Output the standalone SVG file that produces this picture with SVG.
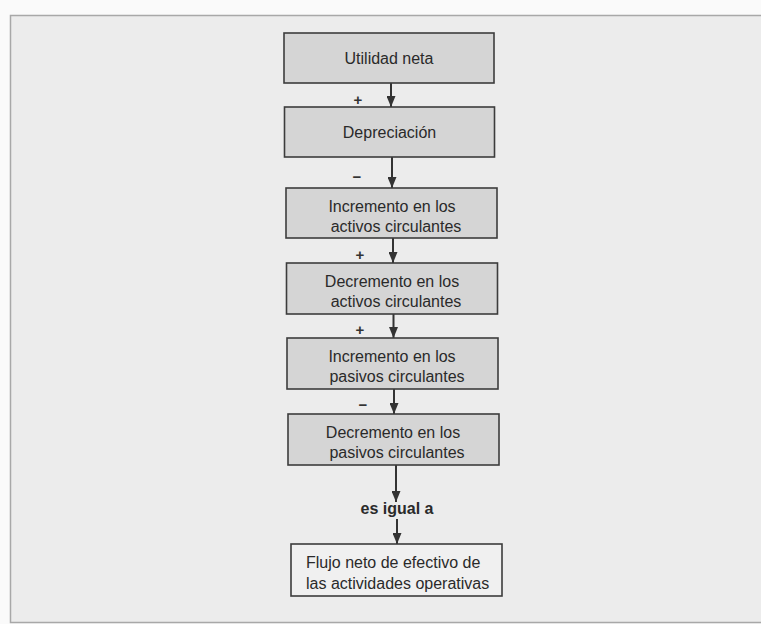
<svg xmlns="http://www.w3.org/2000/svg" width="761" height="624" viewBox="0 0 761 624">
<style>
.box{fill:#d5d5d5;stroke:#3c3c3c;stroke-width:1.6}
.txt{font-family:"Liberation Sans",Arial,sans-serif;font-size:16px;fill:#2a2a2a;text-anchor:middle}
.sign{font-family:"Liberation Sans",Arial,sans-serif;font-size:15px;font-weight:bold;fill:#333;text-anchor:middle}
.conn{stroke:#333;stroke-width:2;fill:none;marker-end:url(#ah)}
</style>
<defs>
<marker id="ah" markerWidth="11" markerHeight="9" refX="11" refY="4.5" orient="auto" markerUnits="userSpaceOnUse" viewBox="0 0 11 9">
<path d="M0,0 L11,4.5 L0,9 Z" fill="#333"/>
</marker>
</defs>
<rect x="0" y="0" width="761" height="624" fill="#fafafa"/>
<rect x="10.5" y="15.5" width="760" height="607" fill="#ececec" stroke="#a8a8a8" stroke-width="1.5"/>
<g id="connectors">
<line class="conn" x1="391" y1="83" x2="391" y2="107"/>
<line class="conn" x1="392" y1="157" x2="392" y2="188"/>
<line class="conn" x1="393" y1="238" x2="393" y2="263"/>
<line class="conn" x1="393.5" y1="314" x2="393.5" y2="338"/>
<line class="conn" x1="394" y1="389" x2="394" y2="414"/>
<line class="conn" x1="396" y1="465" x2="396" y2="502"/>
<line class="conn" x1="397" y1="519" x2="397" y2="544"/>
</g>
<g id="signs">
<text class="sign" x="358" y="105">+</text>
<text class="sign" x="357" y="182">−</text>
<text class="sign" x="360" y="260">+</text>
<text class="sign" x="360" y="335">+</text>
<text class="sign" x="363" y="410">−</text>
</g>
<g id="n1"><rect class="box" x="284" y="33" width="210" height="50"/><text class="txt" x="389" y="64">Utilidad neta</text></g>
<g id="n2"><rect class="box" x="284.5" y="107" width="210" height="50"/><text class="txt" x="389.5" y="138">Depreciación</text></g>
<g id="n3"><rect class="box" x="286" y="188" width="211" height="50"/><text class="txt" x="392" y="212">Incremento en los</text><text class="txt" x="396" y="232">activos circulantes</text></g>
<g id="n4"><rect class="box" x="286.5" y="263" width="211" height="51"/><text class="txt" x="392" y="287">Decremento en los</text><text class="txt" x="396" y="307">activos circulantes</text></g>
<g id="n5"><rect class="box" x="287" y="338" width="211" height="51"/><text class="txt" x="392" y="362">Incremento en los</text><text class="txt" x="397" y="382">pasivos circulantes</text></g>
<g id="n6"><rect class="box" x="288" y="414" width="211" height="51"/><text class="txt" x="393" y="438">Decremento en los</text><text class="txt" x="397" y="458">pasivos circulantes</text></g>
<g id="n7"><text class="txt" x="397" y="514" style="font-weight:bold">es igual a</text></g>
<g id="n8"><rect class="box" x="291" y="544" width="211" height="52" style="fill:#f0f0f0"/><text class="txt" x="306" y="568" style="text-anchor:start">Flujo neto de efectivo de</text><text class="txt" x="306" y="589" style="text-anchor:start">las actividades operativas</text></g>
</svg>
